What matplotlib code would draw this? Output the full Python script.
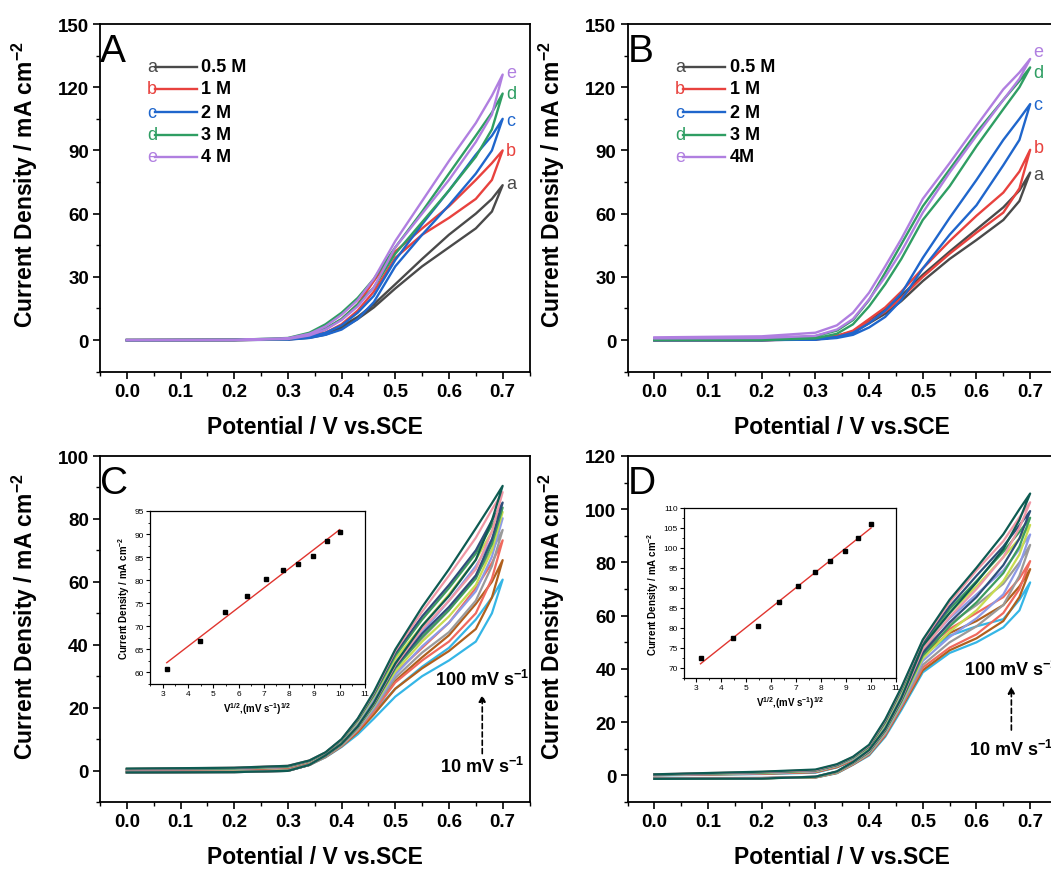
import numpy as np
import matplotlib
matplotlib.use("Agg")
import matplotlib.pyplot as plt
from matplotlib.ticker import MultipleLocator

plt.rcParams['font.family'] = ['Liberation Sans', 'DejaVu Sans']
plt.rcParams['mathtext.default'] = 'regular'

# potential grid used for reading the curves (V vs SCE)
E = [0.0, 0.2, 0.3, 0.34, 0.37, 0.4, 0.43, 0.46, 0.5, 0.55, 0.6, 0.65, 0.68, 0.7]

# ---- panel A: concentration series (forward = lo, reverse = up) ----
A_LABELS = ['0.5 M', '1 M', '2 M', '3 M', '4 M']
A_UP = [
    [0, 0.1, 0.5, 1.5, 3.2, 6.5, 11, 17, 26.5, 38.5, 50, 60, 67, 73.5],
    [0, 0.1, 0.6, 2, 5, 10, 17, 28, 42, 53, 63.5, 76, 84, 90],
    [0, 0.1, 0.5, 1.5, 3.5, 7, 13, 21, 38, 55, 71, 88, 97, 105],
    [0, 0.1, 1.0, 3.5, 7.5, 13, 20, 29, 44, 61, 79, 97, 108, 117],
    [0, 0.1, 0.9, 3.0, 6.5, 12, 19, 29, 47, 66, 85, 103, 116, 126],
]
A_LO = [
    [0, 0, 0.3, 1.1, 2.6, 5.5, 10, 15.5, 24.5, 35, 44, 53, 61, 73.5],
    [0, 0, 0.3, 1.5, 3.5, 7.5, 14, 23, 39, 50, 58, 67, 76, 90],
    [0, 0, 0.2, 1.0, 2.5, 5, 10, 18, 35, 50, 64, 79, 90, 105],
    [0, 0, 0.5, 2.5, 5.5, 10, 17, 25, 41, 56, 71, 87, 100, 117],
    [0, 0, 0.5, 2.2, 5, 9.5, 16, 25, 44, 60, 76, 94, 107, 126],
]

# ---- panel B ----
B_LABELS = ['0.5 M', '1 M', '2 M', '3 M', '4M']
B_UP = [
    [0, 0, 0.5, 2, 4, 9.5, 14.5, 21, 31, 42, 52.5, 63, 71, 79.5],
    [0, 0, 0.5, 2, 4.5, 10, 15.5, 23, 34, 47, 59, 70, 80, 90.3],
    [0, 0, 0.5, 1.5, 3.5, 8, 14, 22, 39, 58, 76, 95, 105, 112],
    [0.3, 0.6, 1.9, 4.5, 9.5, 19, 32, 45.5, 63.5, 81, 98.5, 114, 123, 129.4],
    [1.3, 1.8, 3.5, 7, 13, 22.5, 35, 48, 67, 84, 101.7, 119, 127, 133.4],
]
B_LO = [
    [0, 0, 0.3, 1.5, 3.5, 8, 12.5, 18.5, 28, 38.5, 47.5, 57, 66, 79.5],
    [0, 0, 0.3, 1.5, 3.5, 8.5, 13.5, 20, 30, 41, 51, 60.5, 72, 90.3],
    [0, 0, 0.2, 1, 2.5, 6, 11, 19, 34, 50, 64, 83, 95, 112],
    [0, 0, 0.8, 3.0, 7.5, 16, 26.5, 38.5, 57, 73, 92, 109.6, 120, 129.4],
    [0.8, 1.0, 2.0, 5, 10, 19.3, 30, 42, 60.5, 79.5, 97, 114, 124, 133.4],
]
CONC_COLORS = ['#4a4a4a', '#e8423e', '#1f66cc', '#2f9e63', '#b07fe0']
CONC_LETTERS = ['a', 'b', 'c', 'd', 'e']

# ---- panels C / D: scan rate series ----
SCAN_RATES = [10, 20, 30, 40, 50, 60, 70, 80, 90, 100]   # mV s-1
C_PEAK = [60.7, 66.9, 73.2, 76.5, 80.2, 82.2, 83.6, 85.2, 88.5, 90.5]
D_PEAK = [72.5, 77.5, 80.5, 86.6, 90.5, 94.1, 96.8, 99.3, 102.6, 105.9]
RATE_COLORS = ['#35b6e6', '#b0601e', '#f06a5e', '#9a9a9a', '#8d9ae6',
               '#c8dc50', '#3e9c5e', '#2e4f7a', '#ef98a6', '#0e5b52']

C_UP = [
    [0.3, 0.4, 0.8, 2.6, 5.0, 8.6, 13.0, 18.5, 26.0, 33.0, 39.0, 48.0, 55.0, 60.7],
    [0.3, 0.5, 0.9, 2.7, 5.1, 8.9, 13.8, 20.0, 28.5, 36.0, 43.0, 53.0, 60.0, 66.9],
    [0.4, 0.5, 1.0, 2.8, 5.2, 9.1, 14.5, 21.0, 31.0, 39.0, 47.0, 58.0, 66.0, 73.2],
    [0.4, 0.6, 1.1, 2.9, 5.3, 9.3, 15.0, 22.0, 33.0, 42.0, 51.0, 62.0, 70.0, 76.5],
    [0.4, 0.6, 1.2, 3.0, 5.4, 9.5, 15.4, 23.0, 34.5, 44.0, 54.0, 65.0, 73.5, 80.2],
    [0.5, 0.7, 1.3, 3.0, 5.5, 9.6, 15.7, 23.6, 35.5, 46.0, 56.0, 67.0, 76.0, 82.2],
    [0.5, 0.7, 1.3, 3.1, 5.6, 9.7, 16.0, 24.0, 36.5, 48.0, 58.0, 69.0, 78.0, 83.6],
    [0.5, 0.8, 1.4, 3.1, 5.7, 9.8, 16.2, 24.4, 37.3, 49.0, 59.0, 70.0, 79.5, 85.2],
    [0.5, 0.9, 1.5, 3.2, 5.7, 9.9, 16.4, 24.7, 38.0, 50.5, 62.0, 74.0, 83.0, 88.5],
    [0.6, 0.9, 1.5, 3.2, 5.8, 10.0, 16.5, 25.0, 38.5, 52.0, 64.0, 77.0, 85.0, 90.5],
]
C_LO = [
    [-0.4, -0.3, 0.1, 1.8, 4.2, 7.5, 11.5, 16.5, 23.5, 30.0, 35.0, 41.0, 50.0, 60.7],
    [-0.4, -0.3, 0.1, 1.8, 4.3, 7.7, 12.2, 17.8, 26.0, 32.5, 38.0, 45.0, 55.0, 66.9],
    [-0.5, -0.3, 0.1, 1.8, 4.4, 7.8, 12.7, 18.8, 28.0, 35.0, 41.0, 50.0, 61.0, 73.2],
    [-0.5, -0.4, 0.0, 1.8, 4.5, 8.0, 13.1, 19.5, 29.5, 37.5, 44.0, 54.0, 65.0, 76.5],
    [-0.5, -0.4, 0.0, 1.8, 4.5, 8.1, 13.3, 20.0, 30.5, 39.5, 47.0, 57.0, 68.0, 80.2],
    [-0.6, -0.4, 0.0, 1.8, 4.6, 8.2, 13.5, 20.5, 31.5, 41.0, 49.0, 59.0, 70.0, 82.2],
    [-0.6, -0.5, -0.1, 1.8, 4.6, 8.3, 13.7, 20.8, 32.5, 42.5, 51.0, 61.0, 72.0, 83.6],
    [-0.6, -0.5, -0.1, 1.8, 4.7, 8.4, 13.8, 21.1, 33.0, 43.5, 52.0, 62.0, 73.5, 85.2],
    [-0.6, -0.5, -0.1, 1.8, 4.7, 8.4, 13.9, 21.3, 33.5, 45.0, 54.0, 64.0, 76.0, 88.5],
    [-0.6, -0.5, -0.1, 1.8, 4.8, 8.5, 14.0, 21.5, 34.0, 46.0, 55.5, 67.0, 79.5, 90.5],
]

D_UP = [
    [0.0, 0.5, 1.0, 3.0, 5.5, 9.0, 17.5, 29.0, 45.0, 52.5, 56.0, 58.7, 66.0, 72.5],
    [0.1, 0.6, 1.2, 3.1, 5.7, 9.3, 17.8, 29.5, 45.5, 53.5, 58.0, 64.0, 71.0, 77.5],
    [0.1, 0.7, 1.3, 3.3, 5.9, 9.6, 18.2, 30.0, 46.5, 55.0, 61.0, 67.0, 74.0, 80.5],
    [0.2, 0.8, 1.5, 3.5, 6.1, 9.9, 18.6, 30.5, 47.2, 57.0, 64.0, 72.0, 80.0, 86.6],
    [0.2, 0.9, 1.6, 3.6, 6.3, 10.2, 19.0, 31.0, 48.0, 59.0, 68.0, 77.0, 85.0, 90.5],
    [0.3, 1.0, 1.7, 3.7, 6.5, 10.5, 19.5, 31.5, 48.8, 61.0, 71.0, 82.0, 89.0, 94.1],
    [0.3, 1.1, 1.8, 3.8, 6.6, 10.8, 20.0, 32.0, 49.5, 62.5, 73.0, 84.0, 91.5, 96.8],
    [0.3, 1.2, 1.9, 3.9, 6.8, 11.0, 20.3, 32.4, 50.0, 63.5, 75.0, 86.0, 94.0, 99.3],
    [0.4, 1.3, 2.0, 4.1, 6.9, 11.2, 20.7, 32.7, 50.5, 65.0, 77.0, 88.0, 97.0, 102.6],
    [0.4, 1.4, 2.2, 4.2, 7.0, 11.5, 21.0, 33.0, 51.0, 66.0, 78.0, 90.6, 100.0, 105.9],
]
D_LO = [
    [-1.0, -1.0, -0.8, 0.8, 4.0, 7.5, 14.5, 24.5, 38.7, 46.0, 50.0, 55.6, 62.0, 72.5],
    [-1.0, -1.0, -0.8, 0.9, 4.1, 7.8, 15.0, 25.3, 39.5, 47.0, 51.5, 58.0, 67.0, 77.5],
    [-1.1, -1.0, -0.7, 1.0, 4.2, 8.0, 15.4, 25.8, 40.5, 48.0, 53.0, 61.0, 70.0, 80.5],
    [-1.1, -1.0, -0.7, 1.1, 4.4, 8.2, 15.8, 26.3, 41.5, 50.0, 56.0, 64.0, 75.0, 86.6],
    [-1.1, -1.0, -0.6, 1.2, 4.5, 8.4, 16.2, 26.8, 43.0, 52.0, 59.0, 68.0, 79.0, 90.5],
    [-1.2, -1.1, -0.6, 1.2, 4.6, 8.6, 16.5, 27.3, 44.0, 54.0, 62.0, 73.0, 83.0, 94.1],
    [-1.2, -1.1, -0.6, 1.3, 4.7, 8.8, 16.8, 27.8, 45.0, 56.0, 65.0, 76.0, 86.0, 96.8],
    [-1.2, -1.1, -0.5, 1.4, 4.8, 9.0, 17.0, 28.2, 46.0, 57.5, 67.0, 79.0, 89.0, 99.3],
    [-1.2, -1.1, -0.5, 1.4, 4.9, 9.2, 17.3, 28.6, 47.5, 59.5, 70.0, 82.0, 93.0, 102.6],
    [-1.3, -1.2, -0.5, 1.5, 5.0, 9.5, 17.5, 29.0, 48.7, 61.0, 72.5, 85.0, 96.0, 105.9],
]

XLABEL = 'Potential / V vs.SCE'
YLABEL = 'Current Density / mA cm$^{-2}$'
TICK_FS = 13.5
LABEL_FS = 16.5


def loop(up, lo):
    # forward scan along lo, back along up
    x = list(E) + list(E[::-1])
    y = list(lo) + list(up[::-1])
    return x, y


def style_main(ax, ylim, ymajor, yminor):
    ax.set_xlim(-0.05, 0.75)
    ax.set_ylim(*ylim)
    ax.xaxis.set_minor_locator(MultipleLocator(0.05))
    ax.yaxis.set_major_locator(MultipleLocator(ymajor))
    ax.yaxis.set_minor_locator(MultipleLocator(yminor))
    ax.set_xticks([0.0, 0.1, 0.2, 0.3, 0.4, 0.5, 0.6, 0.7])
    ax.set_xticklabels(['0.0', '0.1', '0.2', '0.3', '0.4', '0.5', '0.6', '0.7'])
    ax.tick_params(which='major', direction='out', length=5, width=1.2,
                   labelsize=TICK_FS, pad=3)
    ax.tick_params(which='minor', direction='out', length=3, width=1.0)
    for lab in ax.get_xticklabels() + ax.get_yticklabels():
        lab.set_fontweight('bold')
    for sp in ax.spines.values():
        sp.set_linewidth(1.3)
    ax.set_xlabel(XLABEL, fontsize=LABEL_FS, fontweight='bold')
    ax.set_ylabel(YLABEL, fontsize=LABEL_FS, fontweight='bold')
    ax.xaxis.set_label_coords(0.5, -0.125)
    ax.yaxis.set_label_coords(-0.14, 0.54)


def panel_letter(ax, letter):
    ax.text(0.0, 0.893, letter, transform=ax.transAxes, fontsize=28,
            ha='left', va='baseline')


def conc_panel(ax, ups, los, labels, legend_x, end_offsets):
    for i in range(len(ups)):
        x, y = loop(ups[i], los[i])
        ax.plot(x, y, color=CONC_COLORS[i], lw=1.7, solid_joinstyle='round')
    style_main(ax, (-15, 150), 30, 15)
    # hand made legend: letter, line, label
    lx, l0, l1, tx = legend_x
    rows = [0.877, 0.814, 0.746, 0.681, 0.618]
    for i, yy in enumerate(rows):
        ax.text(lx, yy, CONC_LETTERS[i], transform=ax.transAxes, color=CONC_COLORS[i],
                fontsize=13, ha='left', va='center')
        ax.plot([l0, l1], [yy, yy], transform=ax.transAxes, color=CONC_COLORS[i], lw=1.7)
        ax.text(tx, yy, labels[i], transform=ax.transAxes, color='black',
                fontsize=13, fontweight='bold', ha='left', va='center')
    # letters at the end of the curves
    for i in range(len(ups)):
        ax.text(0.706, ups[i][-1] + end_offsets[i], CONC_LETTERS[i], color=CONC_COLORS[i],
                fontsize=13, ha='left', va='center', clip_on=False)


def rate_panel(ax, ups, los, ylim, ymajor, yminor):
    for i in range(len(ups)):
        x, y = loop(ups[i], los[i])
        ax.plot(x, y, color=RATE_COLORS[i], lw=1.6, solid_joinstyle='round')
    style_main(ax, ylim, ymajor, yminor)


def inset(fig, rect, peaks, ylim, yticks):
    ins = fig.add_axes(rect)
    v = np.sqrt(np.array(SCAN_RATES, dtype=float))
    k, b = np.polyfit(v, peaks, 1)
    ins.plot([v[0], v[-1]], [k * v[0] + b, k * v[-1] + b], color='#e0352f', lw=1.0)
    ins.plot(v, peaks, 's', color='black', ms=3)
    ins.set_xlim(2.5, 11)
    ins.set_ylim(*ylim)
    ins.set_xticks(range(3, 12))
    ins.set_yticks(yticks)
    ins.xaxis.set_minor_locator(MultipleLocator(0.5))
    ins.yaxis.set_minor_locator(MultipleLocator(2.5))
    ins.tick_params(which='major', direction='out', length=3, width=0.8, labelsize=6, pad=1.5)
    ins.tick_params(which='minor', direction='out', length=1.5, width=0.6)
    for sp in ins.spines.values():
        sp.set_linewidth(0.9)
    ins.set_xlabel('V$^{1/2}$,(mV s$^{-1}$)$^{1/2}$', fontsize=7, fontweight='bold', labelpad=2)
    ins.set_ylabel(YLABEL, fontsize=7, fontweight='bold', labelpad=2)
    return ins


def rate_annotation(ax, x, y_top, y_bot, y_arrow0, y_arrow1):
    ax.text(x, y_top, '100 mV s$^{-1}$', fontsize=13, fontweight='bold',
            ha='center', va='center', clip_on=False)
    ax.text(x, y_bot, '10 mV s$^{-1}$', fontsize=13, fontweight='bold',
            ha='center', va='center', clip_on=False)
    ax.annotate('', xy=(x, y_arrow1), xytext=(x, y_arrow0),
                arrowprops=dict(arrowstyle='-|>', linestyle=(0, (3, 2)), color='black',
                                lw=1.2, mutation_scale=10))


W, H = 1051.0, 870.0
fig = plt.figure(figsize=(10.51, 8.70), dpi=100)


def px_axes(left, right, top, bottom):
    return fig.add_axes([left / W, 1 - bottom / H, (right - left) / W, (bottom - top) / H])


axA = px_axes(100, 529.5, 25, 372.7)
axB = px_axes(627.5, 1057, 25, 372.7)
axC = px_axes(100, 529.5, 457, 803)
axD = px_axes(627.5, 1057, 457, 803)

conc_panel(axA, A_UP, A_LO, A_LABELS, (0.109, 0.128, 0.226, 0.235), [1, 0, -1, 0, 1])
panel_letter(axA, 'A')
conc_panel(axB, B_UP, B_LO, B_LABELS, (0.111, 0.129, 0.227, 0.239), [-1, 1, 0, -2.5, 3.5])
panel_letter(axB, 'B')

rate_panel(axC, C_UP, C_LO, (-10, 100), 20, 10)
panel_letter(axC, 'C')
rate_annotation(axC, 0.662, 29, 1.5, 4.5, 25)

rate_panel(axD, D_UP, D_LO, (-10, 120), 20, 10)
panel_letter(axD, 'D')
rate_annotation(axD, 0.665, 40, 10, 16, 34.5)

inset(fig, [150 / W, 1 - 685 / H, 215 / W, 173 / H], C_PEAK, (57.5, 95), range(60, 96, 5))
inset(fig, [684 / W, 1 - 679 / H, 212 / W, 170 / H], D_PEAK, (67.5, 110), range(70, 111, 5))

fig.savefig('out.png', dpi=100)
